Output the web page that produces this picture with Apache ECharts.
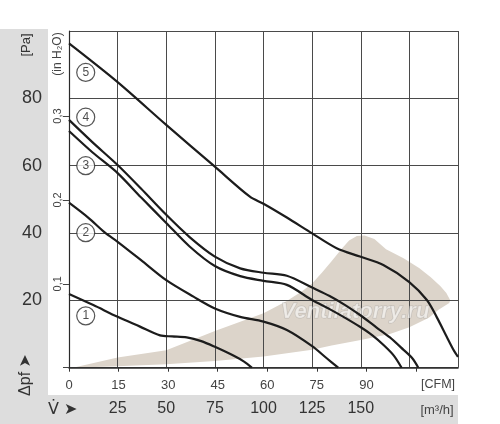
<!DOCTYPE html>
<html><head><meta charset="utf-8">
<script src="https://cdn.jsdelivr.net/npm/echarts@6/dist/echarts.min.js"></script>
<style>html,body{margin:0;padding:0;background:#fff}#c{width:500px;height:424px}</style>
</head><body><div id="c"></div>
<script>
// Flow axis in m3/h, pressure in Pa
const curve1X = [0, 12.5, 25, 36.5, 46.8, 53, 60.5, 68, 75, 84.5, 90, 94];
const curve1Y = [21.9, 18.6, 15.1, 12.2, 9.6, 9.3, 9.0, 7.9, 6.2, 3.6, 1.8, 0];
const curve2X = [0, 10, 18.5, 25, 38, 50, 64, 75, 88, 100, 112, 125, 132.5, 138.4];
const curve2Y = [49, 44.5, 40.1, 37.4, 31.5, 26, 21.1, 17.6, 15.1, 13.7, 11.2, 6.4, 2.8, 0];
const curve3X = [0, 12, 25, 37, 50, 62, 75, 88, 100, 112, 125, 134, 142, 150, 156, 162, 167, 171];
const curve3Y = [70.3, 64, 57.8, 50.6, 43, 36, 30.2, 27.2, 25.8, 24.6, 20.1, 17.4, 14.8, 12, 9.6, 6.6, 3.6, 0];
const curve4X = [0, 12, 25, 37, 50, 62, 75, 88, 100, 112, 125, 134, 142, 150, 158, 165, 172, 176.5, 179.6];
const curve4Y = [73.6, 67, 60.2, 53.2, 45.4, 38.8, 33, 29.5, 28.2, 27.3, 23.8, 21.3, 18.6, 15.5, 12, 9, 5.3, 2.8, 0];
const curve5X = [0, 25, 50, 75, 93, 100, 112, 125, 137.6, 149.6, 161.6, 174.8, 184, 189, 194.2, 197.5, 200];
const curve5Y = [96.3, 84.8, 72.1, 59.7, 50.8, 48.7, 44.6, 39.9, 35.5, 33, 30.5, 25.5, 20.1, 15.1, 9.2, 5.5, 3.2];
const shadeX = [2, 25, 50, 75, 100, 112, 120, 125, 130, 135, 140, 144, 148, 152, 157, 163, 172, 180, 186, 191, 194, 196, 195.5, 190, 185, 175, 165, 150, 135, 125, 100, 75, 50, 25, 2];
const shadeY = [0, 3, 5.2, 10.9, 16.2, 19.8, 22.8, 25, 28.2, 31.6, 35.2, 37.8, 39.1, 39.3, 38.2, 35.2, 32.5, 29.6, 26.9, 24.2, 22.2, 20, 19.2, 17.2, 14.8, 12, 10, 8.2, 6.6, 5.3, 3.3, 2, 1, 0.4, 0];
const curveNames = ['1', '2', '3', '4', '5'];
const markerX = [8.6, 8.6, 8.6, 8.6, 8.6];
const markerY = [15.4, 40.1, 60, 74.4, 87.7];
const m3hLabels = [25, 50, 75, 100, 125, 150];
const cfmTicks = [0, 15, 30, 45, 60, 75, 90, 105];
const cfmLabels = [0, 15, 30, 45, 60, 75, 90];
const inH2OTicks = [0, 0.1, 0.2, 0.3];
const inH2OLabels = [0.1, 0.2, 0.3];
const paLabels = [20, 40, 60, 80];

const FONT = 'Liberation Sans, Arial, DejaVu Sans, sans-serif';
const chart = echarts.init(document.getElementById('c'), null, {renderer: 'canvas'});
const zip = (xs, ys) => xs.map((x, i) => [x, ys[i]]);
const curves = [[curve1X, curve1Y], [curve2X, curve2Y], [curve3X, curve3Y], [curve4X, curve4Y], [curve5X, curve5Y]];

const lineSeries = curves.map((c, i) => ({
  type: 'line', name: curveNames[i], data: zip(c[0], c[1]),
  xAxisIndex: 0, yAxisIndex: 0, showSymbol: false, symbol: 'none',
  smooth: 0.3, z: 3, silent: true,
  lineStyle: {color: '#1c1c1c', width: 2.2}
}));

const option = {
  backgroundColor: '#ffffff',
  animation: false,
  grid: {left: 69, top: 31, right: 42, bottom: 56.3, containLabel: false},
  xAxis: [
    {
      type: 'value', min: 0, max: 200, interval: 25, position: 'bottom',
      axisLine: {show: true, onZero: false, lineStyle: {color: '#2a2a2a', width: 1.5}},
      axisTick: {show: false},
      splitLine: {show: true, lineStyle: {color: '#4a4a4a', width: 1}},
      axisLabel: {margin: 33, fontSize: 16, color: '#333', fontFamily: FONT,
        formatter: v => (m3hLabels.indexOf(v) >= 0 ? String(v) : '')}
    },
    {
      type: 'value', min: 0, max: 200 / 1.699, position: 'bottom',
      axisLine: {show: false}, splitLine: {show: false},
      axisTick: {show: true, length: 4, customValues: cfmTicks, lineStyle: {color: '#333'}},
      axisLabel: {margin: 11, fontSize: 13, color: '#444', fontFamily: FONT, customValues: cfmLabels}
    }
  ],
  yAxis: [
    {
      type: 'value', min: 0, max: 100, interval: 20, position: 'left',
      axisLine: {show: true, lineStyle: {color: '#2a2a2a', width: 1.2}},
      axisTick: {show: false},
      splitLine: {show: true, lineStyle: {color: '#4a4a4a', width: 1}},
      axisLabel: {margin: 27, fontSize: 18, color: '#333', fontFamily: FONT,
        formatter: v => (paLabels.indexOf(v) >= 0 ? String(v) : '')}
    },
    {
      type: 'value', min: 0, max: 100 / 249.089, position: 'left',
      axisLine: {show: false}, splitLine: {show: false},
      axisTick: {show: true, length: 6, customValues: inH2OTicks, lineStyle: {color: '#444'}},
      axisLabel: {customValues: inH2OLabels, rotate: 90, margin: 6, fontSize: 11, color: '#444', fontFamily: FONT,
        formatter: v => v.toFixed(1).replace('.', ',')}
    }
  ],
  graphic: [
    {type: 'rect', z: -10, silent: true, shape: {x: 0, y: 29, width: 48, height: 395}, style: {fill: '#dddddd'}},
    {type: 'rect', z: -10, silent: true, shape: {x: 0, y: 395, width: 458, height: 29}, style: {fill: '#dddddd'}},
    {type: 'text', x: 26, y: 45, rotation: Math.PI / 2, style: {text: '[Pa]', font: '13px ' + FONT, fill: '#333', align: 'center', verticalAlign: 'middle'}},
    {type: 'text', x: 57.5, y: 54, rotation: Math.PI / 2, style: {text: '(in H\u2082O)', font: '12px ' + FONT, fill: '#444', align: 'center', verticalAlign: 'middle'}},
    {type: 'text', x: 26, y: 375, rotation: Math.PI / 2, style: {text: '\u0394pf \u27A4', font: '16px ' + FONT, fill: '#333', align: 'center', verticalAlign: 'middle'}},
    {type: 'text', x: 48, y: 410, style: {text: 'V\u0307 \u27A4', font: '16px DejaVu Sans, ' + FONT, fill: '#333', align: 'left', verticalAlign: 'middle'}},
    {type: 'text', x: 438, y: 385, style: {text: '[CFM]', font: '12.5px ' + FONT, fill: '#444', align: 'center', verticalAlign: 'middle'}},
    {type: 'text', x: 437, y: 410, style: {text: '[m\u00B3/h]', font: '13px ' + FONT, fill: '#444', align: 'center', verticalAlign: 'middle'}},
    {type: 'text', x: 355, y: 312, z: 1, silent: true, style: {text: 'Ventilatorry.ru', font: 'italic bold 22px ' + FONT, fill: 'rgba(255,255,255,0.55)', stroke: 'rgba(140,140,140,0.35)', lineWidth: 1, align: 'center', verticalAlign: 'middle'}}
  ],
  series: [
    {
      type: 'custom', xAxisIndex: 0, yAxisIndex: 0, z: -1, silent: true,
      data: [[0, 0]],
      renderItem: (params, api) => {
        const pts = shadeX.map((x, i) => api.coord([x, shadeY[i]]));
        return {type: 'polygon', shape: {points: pts}, style: {fill: '#dcd4ca'}};
      }
    },
    ...lineSeries,
    {
      type: 'scatter', xAxisIndex: 0, yAxisIndex: 0, z: 4, silent: true,
      data: markerX.map((x, i) => [x, markerY[i], curveNames[i]]),
      symbol: 'circle', symbolSize: 18,
      itemStyle: {color: '#ffffff', borderColor: '#2a2a2a', borderWidth: 1.2},
      label: {show: true, position: 'inside', formatter: p => p.data[2], fontSize: 12, color: '#222', fontFamily: FONT}
    }
  ]
};
chart.setOption(option);
</script></body></html>
